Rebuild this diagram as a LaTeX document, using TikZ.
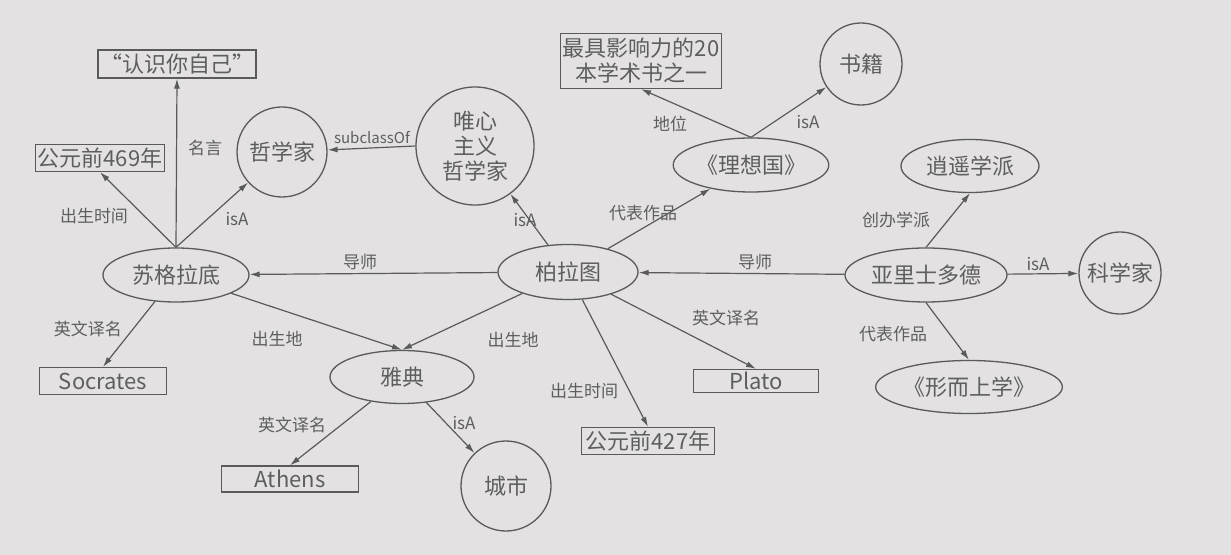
\documentclass[tikz,border=0pt]{standalone}
\usepackage{fontspec}
\setmainfont{Noto Sans CJK SC}
\usetikzlibrary{shapes.geometric,arrows.meta}
\definecolor{bgc}{HTML}{E3E1E2}
\definecolor{inkc}{HTML}{5A5A5A}
\definecolor{txtc}{HTML}{5E5E5E}
\begin{document}
\begin{tikzpicture}[x=0.5pt,y=-0.5pt,
  every node/.style={text=txtc},
  ell/.style={draw=inkc,line width=0.65pt,ellipse,inner sep=0pt,font=\fontsize{11}{13}\selectfont},
  circ/.style={draw=inkc,line width=0.65pt,circle,inner sep=0pt,font=\fontsize{11}{13}\selectfont},
  bx/.style={draw=inkc,line width=0.65pt,rectangle,inner sep=1pt,font=\fontsize{11}{13}\selectfont},
  lbl/.style={font=\fontsize{8.5}{10}\selectfont,inner sep=1pt},
  rel/.style={draw=inkc,line width=0.6pt,-{Latex[length=5pt,width=3pt]}}]
\useasboundingbox (0,0) rectangle (1231,555);
\fill[bgc] (0,0) rectangle (1231,555);
% nodes
\node[bx,minimum width=69pt,minimum height=14pt] (rsz) at (177,64) {“认识你自己”};
\node[bx,minimum width=64.5pt,minimum height=13.5pt] (y469) at (100,158) {公元前469年};
\node[circ,minimum size=45pt] (zxj) at (282,152) {哲学家};
\node[circ,minimum size=59pt,align=center,font=\fontsize{11}{12.5}\selectfont] (wx) at (475,146) {唯心\\主义\\哲学家};
\node[bx,minimum width=79.5pt,minimum height=27.5pt,align=center,font=\fontsize{11}{12.5}\selectfont] (zjy) at (641,61) {最具影响力的20\\本学术书之一};
\node[circ,minimum size=41pt] (sj) at (861,64) {书籍};
\node[ell,minimum width=67pt,minimum height=27pt] (lxg) at (751,165) {《理想国》};
\node[ell,minimum width=69pt,minimum height=26.5pt] (xy) at (970,166) {逍遥学派};
\node[ell,minimum width=73pt,minimum height=27pt] (sg) at (176,275) {苏格拉底};
\node[ell,minimum width=70pt,minimum height=27.5pt] (bl) at (568,272) {柏拉图};
\node[ell,minimum width=81pt,minimum height=27pt] (ys) at (926,275) {亚里士多德};
\node[circ,minimum size=41pt] (kx) at (1120,273) {科学家};
\node[bx,minimum width=63.5pt,minimum height=13.5pt] (soc) at (103,381) {Socrates};
\node[ell,minimum width=72pt,minimum height=26.5pt] (yd) at (402,377) {雅典};
\node[bx,minimum width=68.5pt,minimum height=13pt] (ath) at (290,479) {Athens};
\node[circ,minimum size=45pt] (cs) at (506,486) {城市};
\node[bx,minimum width=66.5pt,minimum height=13.5pt] (y427) at (648,441) {公元前427年};
\node[bx,minimum width=62.5pt,minimum height=11.5pt] (plato) at (756,381) {Plato};
\node[ell,minimum width=82pt,minimum height=26.5pt] (xe) at (969,387) {《形而上学》};
% edges
\draw[rel] (sg.north) -- (rsz.south);
\draw[rel] (sg.north) -- (y469.south);
\draw[rel] (sg.north) -- (zxj);
\draw[rel] (wx.180) -- (zxj);
\draw[rel] (bl) -- (wx);
\draw[rel] (bl) -- (lxg);
\draw[rel] (lxg.north) -- (zjy.south);
\draw[rel] (lxg.north) -- (sj);
\draw[rel] (bl) -- (sg);
\draw[rel] (ys) -- (bl);
\draw[rel] (ys.north) -- (xy.south);
\draw[rel] (ys) -- (kx);
\draw[rel] (ys.south) -- (xe.north);
\draw[rel] (sg) -- (soc.north);
\draw[rel] (sg) -- (yd.north);
\draw[rel] (bl) -- (yd.north);
\draw[rel] (yd) -- (ath.north);
\draw[rel] (yd) -- (cs);
\draw[rel] (bl) -- (y427.north);
\draw[rel] (bl) -- (plato.north);
% labels
\node[lbl] (l1) at (205,148) {名言};
\node[lbl] (l2) at (94,216) {出生时间};
\node[lbl] (l3) at (237,219) {isA};
\node[lbl,font=\fontsize{7.5}{9}\selectfont] (l4) at (372,138) {subclassOf};
\node[lbl] (l5) at (525,220) {isA};
\node[lbl] (l6) at (643,213) {代表作品};
\node[lbl] (l7) at (670,124) {地位};
\node[lbl] (l8) at (808,122) {isA};
\node[lbl] (l9) at (360,262) {导师};
\node[lbl] (l10) at (755,262) {导师};
\node[lbl] (l11) at (896,220) {创办学派};
\node[lbl] (l12) at (1038,264) {isA};
\node[lbl] (l13) at (893,334) {代表作品};
\node[lbl] (l14) at (88,329) {英文译名};
\node[lbl] (l15) at (277,339) {出生地};
\node[lbl] (l16) at (513,340) {出生地};
\node[lbl] (l17) at (292,425) {英文译名};
\node[lbl] (l18) at (464,423) {isA};
\node[lbl] (l19) at (584,391) {出生时间};
\node[lbl] (l20) at (726,318) {英文译名};
\end{tikzpicture}
\end{document}
